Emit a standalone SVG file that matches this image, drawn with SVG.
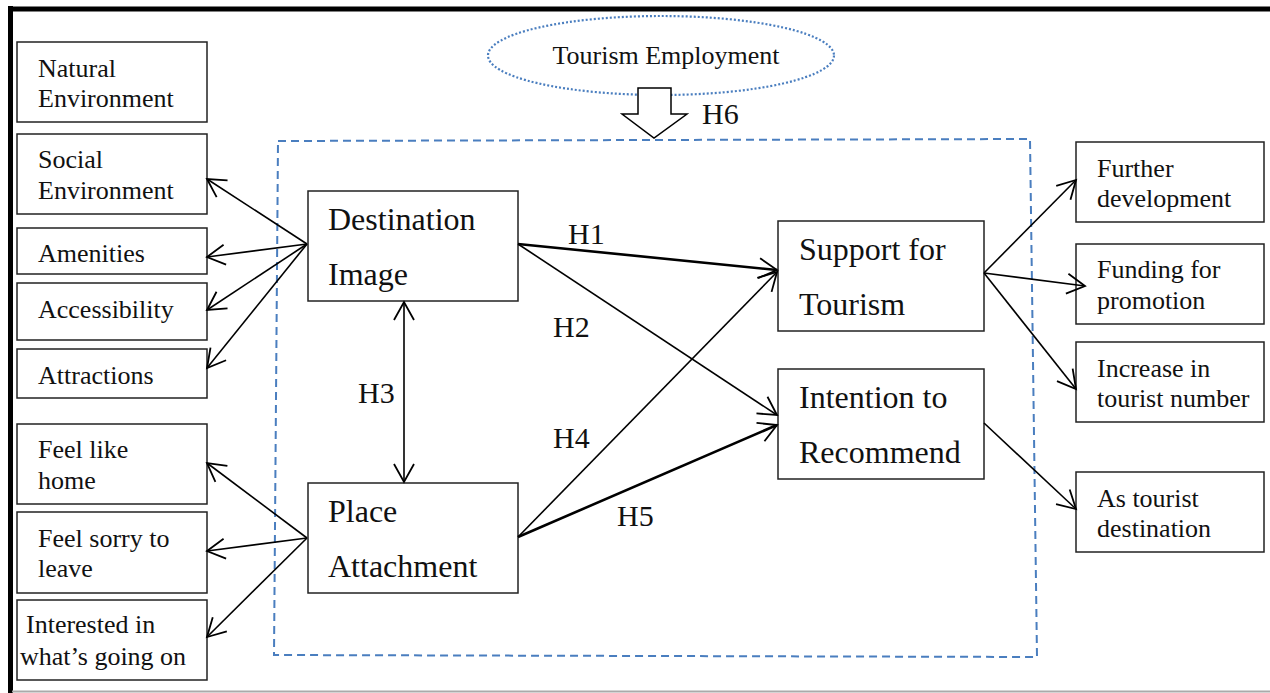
<svg xmlns="http://www.w3.org/2000/svg" width="1270" height="693" viewBox="0 0 1270 693">
<defs>
<style>
.box{fill:#fff;stroke:#222;stroke-width:1.5}
text{font-family:'Liberation Serif','DejaVu Serif',Tinos,'Times New Roman',serif;fill:#111}
.t{font-size:26px}
.tb{font-size:32px}
.h{font-size:30px}
.ln{stroke:#000;stroke-width:1.6;fill:none}
.lnb{stroke:#000;stroke-width:2.6;fill:none}
</style>
<marker id="ah" markerUnits="userSpaceOnUse" markerWidth="24" markerHeight="24" viewBox="-21 -12 24 24" refX="0" refY="0" orient="auto-start-reverse">
<path d="M-18,-10 L0,0 L-18,10" fill="none" stroke="#000" stroke-width="1.8"/>
</marker>
</defs>
<rect x="0" y="0" width="1270" height="693" fill="#fff"/>
<g id="frame">
<line x1="8" y1="9" x2="1270" y2="9" stroke="#000" stroke-width="5"/>
<line x1="10.5" y1="6" x2="10.5" y2="693" stroke="#000" stroke-width="5"/>
<line x1="12" y1="691.5" x2="1270" y2="691.5" stroke="#aaa" stroke-width="2"/>
</g>
<g id="scope">
<polygon points="278,141 1030,139 1037,657 274,655" fill="none" stroke="#4a7ebf" stroke-width="2" stroke-dasharray="8,5"/>
</g>
<g font-family="Liberation Serif, DejaVu Serif, serif">
<g id="tourism-employment">
<ellipse cx="661" cy="55.5" rx="173" ry="39.5" fill="none" stroke="#4a7ebf" stroke-width="2.2" stroke-dasharray="2,2"/>
<text class="t" x="666" y="64" text-anchor="middle">Tourism Employment</text>
</g>
<g id="h6-arrow">
<polygon points="638,88 671,88 671,114 687,114 654,138 622,114 638,114" fill="#fff" stroke="#000" stroke-width="1.5"/>
</g>
<g id="natural-environment"><rect class="box" x="17" y="42" width="190" height="80"/><text class="t" x="38" y="77">Natural</text><text class="t" x="38" y="107">Environment</text></g>
<g id="social-environment"><rect class="box" x="17" y="134" width="190" height="80"/><text class="t" x="38" y="168">Social</text><text class="t" x="38" y="199">Environment</text></g>
<g id="amenities"><rect class="box" x="17" y="228" width="190" height="46"/><text class="t" x="38" y="262">Amenities</text></g>
<g id="accessibility"><rect class="box" x="17" y="283" width="190" height="57"/><text class="t" x="38" y="318">Accessibility</text></g>
<g id="attractions"><rect class="box" x="17" y="349" width="190" height="49"/><text class="t" x="38" y="384">Attractions</text></g>
<g id="feel-like-home"><rect class="box" x="17" y="424" width="190" height="80"/><text class="t" x="38" y="458">Feel like</text><text class="t" x="38" y="489">home</text></g>
<g id="feel-sorry"><rect class="box" x="17" y="512" width="190" height="81"/><text class="t" x="38" y="547">Feel sorry to</text><text class="t" x="38" y="577">leave</text></g>
<g id="interested"><rect class="box" x="17" y="600" width="190" height="80"/><text class="t" x="26" y="633">Interested in</text><text class="t" x="20" y="665">what’s going on</text></g>
<g id="destination-image"><rect class="box" x="308" y="191" width="210" height="110"/><text class="tb" x="328" y="230">Destination</text><text class="tb" x="328" y="285">Image</text></g>
<g id="place-attachment"><rect class="box" x="308" y="483" width="210" height="110"/><text class="tb" x="328" y="522">Place</text><text class="tb" x="328" y="577">Attachment</text></g>
<g id="support-for-tourism"><rect class="box" x="778" y="221" width="206" height="110"/><text class="tb" x="799" y="260">Support for</text><text class="tb" x="799" y="315">Tourism</text></g>
<g id="intention-to-recommend"><rect class="box" x="778" y="369" width="206" height="110"/><text class="tb" x="799" y="408">Intention to</text><text class="tb" x="799" y="463">Recommend</text></g>
<g id="further-development"><rect class="box" x="1076" y="142" width="188" height="80"/><text class="t" x="1097" y="177">Further</text><text class="t" x="1097" y="207">development</text></g>
<g id="funding-for-promotion"><rect class="box" x="1076" y="244" width="188" height="80"/><text class="t" x="1097" y="278">Funding for</text><text class="t" x="1097" y="309">promotion</text></g>
<g id="increase-tourist-number"><rect class="box" x="1076" y="342" width="188" height="80"/><text class="t" x="1097" y="377">Increase in</text><text class="t" x="1097" y="407">tourist number</text></g>
<g id="as-tourist-destination"><rect class="box" x="1076" y="472" width="188" height="80"/><text class="t" x="1097" y="507">As tourist</text><text class="t" x="1097" y="537">destination</text></g>
<g id="labels">
<text class="h" x="568" y="244">H1</text>
<text class="h" x="553" y="337">H2</text>
<text class="h" x="358" y="403">H3</text>
<text class="h" x="553" y="448">H4</text>
<text class="h" x="617" y="526">H5</text>
<text class="h" x="702" y="124">H6</text>
</g>
</g>
<g id="connectors">
<line class="ln" x1="307" y1="244" x2="207" y2="179" marker-end="url(#ah)"/>
<line class="ln" x1="307" y1="244" x2="207" y2="257" marker-end="url(#ah)"/>
<line class="ln" x1="307" y1="244" x2="207" y2="310" marker-end="url(#ah)"/>
<line class="ln" x1="307" y1="244" x2="207" y2="368" marker-end="url(#ah)"/>
<line class="ln" x1="307" y1="538" x2="207" y2="463" marker-end="url(#ah)"/>
<line class="ln" x1="307" y1="538" x2="207" y2="551" marker-end="url(#ah)"/>
<line class="ln" x1="307" y1="538" x2="207" y2="637" marker-end="url(#ah)"/>
<line class="ln" x1="404" y1="302" x2="404" y2="482" marker-start="url(#ah)" marker-end="url(#ah)"/>
<line class="lnb" x1="518" y1="244" x2="777" y2="270" marker-end="url(#ah)"/>
<line class="ln" x1="518" y1="244" x2="777" y2="415" marker-end="url(#ah)"/>
<line class="ln" x1="518" y1="537" x2="777" y2="272" marker-end="url(#ah)"/>
<line class="lnb" x1="518" y1="537" x2="777" y2="425" marker-end="url(#ah)"/>
<line class="ln" x1="984" y1="273" x2="1076" y2="180" marker-end="url(#ah)"/>
<line class="ln" x1="984" y1="273" x2="1085" y2="286" marker-end="url(#ah)"/>
<line class="ln" x1="984" y1="273" x2="1076" y2="389" marker-end="url(#ah)"/>
<line class="ln" x1="984" y1="423" x2="1076" y2="509" marker-end="url(#ah)"/>
</g>
</svg>
